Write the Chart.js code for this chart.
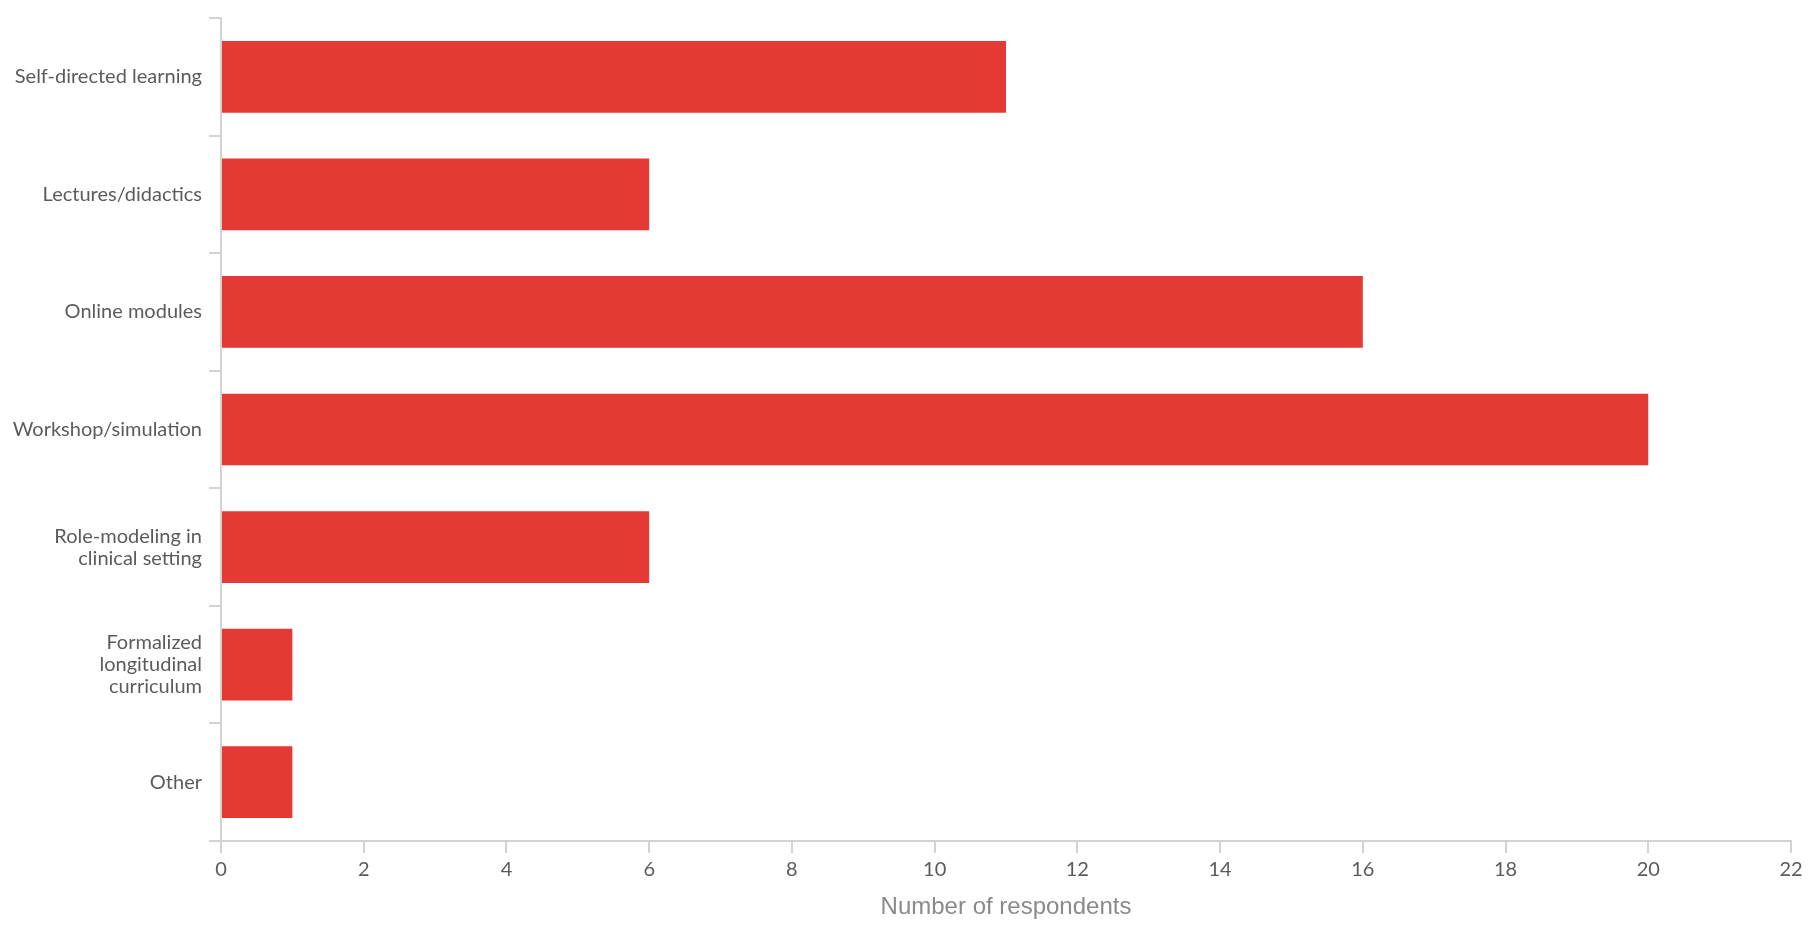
<!DOCTYPE html>
<html>
<head>
<meta charset="utf-8">
<script src="https://cdn.jsdelivr.net/npm/chart.js@4"></script>
<style>
  body { margin: 0; background: #fff; }
  #wrap { width: 1810px; height: 942px; }
</style>
</head>
<body>
<div id="wrap"><canvas id="chart" width="1810" height="942"></canvas></div>
<script>
const categories = [
  "Self-directed learning",
  "Lectures/didactics",
  "Online modules",
  "Workshop/simulation",
  ["Role-modeling in", "clinical setting"],
  ["Formalized", "longitudinal", "curriculum"],
  "Other"
];
const respondents = [11, 6, 16, 20, 6, 1, 1];
const xMax = 22;
const xStep = 2;
const xTitle = "Number of respondents";

const ctx = document.getElementById("chart").getContext("2d");

new Chart(ctx, {
  type: "bar",
  data: {
    labels: categories,
    datasets: [{
      data: respondents,
      backgroundColor: "#e53935",
      barPercentage: 0.61,
      categoryPercentage: 1.0
    }]
  },
  options: {
    indexAxis: "y",
    responsive: false,
    animation: false,
    layout: { padding: { top: 17, right: 19, left: 0, bottom: 0 } },
    plugins: { legend: { display: false }, tooltip: { enabled: false } },
    scales: {
      y: {
        afterFit: scale => { scale.width = 221; },
        grid: { drawOnChartArea: false, offset: true, tickLength: 12, color: "#d3d3d3", lineWidth: 2 },
        border: { color: "#d3d3d3", width: 2 },
        ticks: { color: "#5b5b5b", padding: 7, font: { family: "Lato", size: 20, lineHeight: 1.1 } }
      },
      x: {
        min: 0,
        max: xMax,
        afterFit: scale => { scale.height = 101; },
        grid: { drawOnChartArea: false, tickLength: 12, color: "#d3d3d3", lineWidth: 2 },
        border: { color: "#d3d3d3", width: 2 },
        ticks: { stepSize: xStep, color: "#5b5b5b", padding: 5, font: { family: "Lato", size: 20 } },
        title: {
          display: true,
          text: xTitle,
          color: "#8a8a8a",
          font: { family: "Liberation Sans", size: 24 },
          padding: { top: 4, bottom: 20 }
        }
      }
    }
  }
});
</script>
</body>
</html>
